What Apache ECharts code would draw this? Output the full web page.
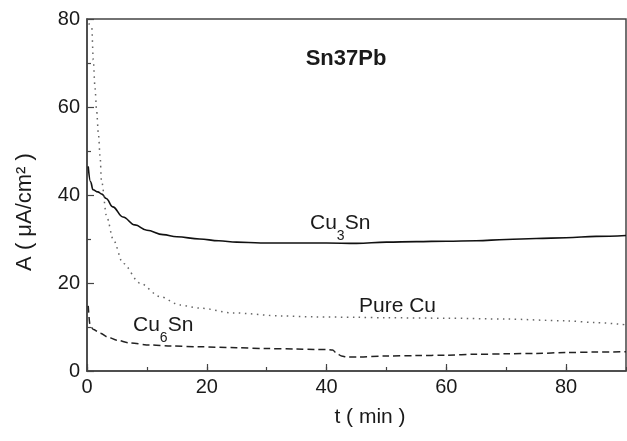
<!DOCTYPE html>
<html>
<head>
<meta charset="utf-8">
<script src="https://cdn.jsdelivr.net/npm/echarts@6/dist/echarts.min.js"></script>
<style>
  html, body { margin: 0; padding: 0; background: #fff; }
  #chart { width: 627px; height: 441px; }
</style>
</head>
<body>
<div id="chart"></div>
<script>
// Cu3Sn (solid)
var cu3SnT = [0.2, 0.6, 1.0, 1.8, 2.5, 3.2, 4.3, 6, 8, 10, 12.7, 15, 18.8, 22, 25, 29, 35, 40, 45, 50, 55, 60, 65, 70, 75, 80, 85, 90]
var cu3SnA = [46.5, 43, 41.2, 40.7, 40.2, 39.2, 37.3, 35, 33.2, 32, 31, 30.5, 30, 29.6, 29.3, 29.1, 29.1, 29.1, 29.0, 29.3, 29.4, 29.5, 29.6, 29.9, 30.1, 30.3, 30.6, 30.8]

// Pure Cu (dotted)
var pureCuT = [0.3, 0.8, 1.05, 1.33, 1.6, 1.9, 2.2, 2.4, 3.3, 4.4, 6, 8.8, 12.2, 15.5, 18.8, 24.4, 32.7, 38, 45, 50, 60, 70, 80, 85, 90]
var pureCuA = [79, 78, 70.7, 64.5, 59.3, 54, 48.6, 43.4, 35, 29.8, 24.5, 20, 16.9, 15, 14.3, 13.2, 12.5, 12.3, 12.2, 12.1, 12.0, 11.8, 11.4, 11, 10.5]

// Cu6Sn (dashed)
var cu6SnT = [0.2, 0.5, 1, 2.2, 3.5, 5, 7, 10.5, 14, 18.8, 25, 30, 35, 38, 40, 41, 41.7, 42.5, 43.3, 45, 50, 55, 60, 65, 70, 75, 80, 85, 90]
var cu6SnA = [14.8, 10.5, 9.5, 8.6, 7.7, 7, 6.4, 5.9, 5.7, 5.5, 5.3, 5.1, 5.0, 4.9, 4.9, 4.8, 4.0, 3.4, 3.2, 3.2, 3.4, 3.5, 3.6, 3.8, 3.9, 4.0, 4.2, 4.3, 4.4]

var FONT = '"Liberation Sans", Arial, Helvetica, sans-serif'
var INK = '#1a1a1a'
var AXIS = '#444'

function zip(t, a) {
  return t.map(function(v, i) { return [v, a[i]] })
}

// rich text styles for formula labels with a subscript
var subRich = {
  a: { fontSize: 21, fontFamily: FONT, fill: INK, height: 24, lineHeight: 24, verticalAlign: 'top' },
  s: { fontSize: 14, fontFamily: FONT, fill: INK, height: 50, lineHeight: 50, verticalAlign: 'top' }
}

var chart = echarts.init(document.getElementById('chart'))

chart.setOption({
  backgroundColor: '#fff',
  animation: false,
  textStyle: { fontFamily: FONT },
  grid: {
    left: 87,
    right: 1,
    top: 19,
    bottom: 70,
    show: true,
    borderColor: AXIS,
    borderWidth: 1.5,
    outerBoundsMode: 'none'
  },
  xAxis: [
    {
      type: 'value',
      min: 0,
      max: 90,
      interval: 20,
      position: 'bottom',
      splitLine: { show: false },
      axisLine: { show: true, lineStyle: { color: AXIS, width: 1.5 } },
      axisTick: { show: true, inside: true, length: 7, lineStyle: { color: AXIS, width: 1.2 } },
      axisLabel: { fontSize: 20, color: INK, margin: 6, showMaxLabel: false, fontFamily: FONT }
    },
    {
      // minor ticks every 10 min
      type: 'value',
      min: 0,
      max: 90,
      interval: 10,
      position: 'bottom',
      splitLine: { show: false },
      axisLine: { show: false },
      axisTick: { show: true, inside: true, length: 4, lineStyle: { color: AXIS, width: 1.2 } },
      axisLabel: { show: false }
    }
  ],
  yAxis: {
    type: 'value',
    min: 0,
    max: 80,
    interval: 20,
    splitLine: { show: false },
    axisLine: { show: true, lineStyle: { color: AXIS, width: 1.5 } },
    axisTick: { show: true, inside: true, length: 7, lineStyle: { color: AXIS, width: 1.2 } },
    minorTick: { show: true, splitNumber: 2, length: 4, lineStyle: { color: AXIS, width: 1.2 } },
    axisLabel: { fontSize: 20, color: INK, margin: 7, fontFamily: FONT }
  },
  series: [
    {
      name: 'Cu3Sn',
      type: 'line',
      xAxisIndex: 0,
      data: zip(cu3SnT, cu3SnA),
      showSymbol: false,
      smooth: 0.4,
      smoothMonotone: 'x',
      lineStyle: { color: '#111', width: 1.6, type: 'solid' }
    },
    {
      name: 'Pure Cu',
      type: 'line',
      xAxisIndex: 0,
      data: zip(pureCuT, pureCuA),
      showSymbol: false,
      smooth: 0.3,
      smoothMonotone: 'x',
      lineStyle: { color: '#666', width: 1.5, type: [1.5, 4.5] }
    },
    {
      name: 'Cu6Sn',
      type: 'line',
      xAxisIndex: 0,
      data: zip(cu6SnT, cu6SnA),
      showSymbol: false,
      smooth: 0.3,
      smoothMonotone: 'x',
      lineStyle: { color: '#222', width: 1.5, type: [7, 4] }
    }
  ],
  graphic: [
    {
      type: 'text',
      x: 346, y: 58.5,
      style: { text: 'Sn37Pb', fontSize: 22, fontWeight: 'bold', fontFamily: FONT, fill: INK, align: 'center', verticalAlign: 'middle' }
    },
    {
      type: 'text',
      x: 310, y: 211.5,
      style: { text: '{a|Cu}{s|3}{a|Sn}', verticalAlign: 'top', rich: subRich }
    },
    {
      type: 'text',
      x: 397.5, y: 306,
      style: { text: 'Pure Cu', fontSize: 21, fontFamily: FONT, fill: INK, align: 'center', verticalAlign: 'middle' }
    },
    {
      type: 'text',
      x: 133, y: 313,
      style: { text: '{a|Cu}{s|6}{a|Sn}', verticalAlign: 'top', rich: subRich }
    },
    {
      type: 'text',
      x: 370, y: 417,
      style: { text: 't ( min )', fontSize: 21, fontFamily: FONT, fill: INK, align: 'center', verticalAlign: 'middle' }
    },
    {
      type: 'text',
      x: 25, y: 212,
      rotation: Math.PI / 2,
      style: { text: 'A ( μA/cm² )', fontSize: 22, fontFamily: FONT, fill: INK, align: 'center', verticalAlign: 'middle' }
    }
  ]
})
</script>
</body>
</html>
